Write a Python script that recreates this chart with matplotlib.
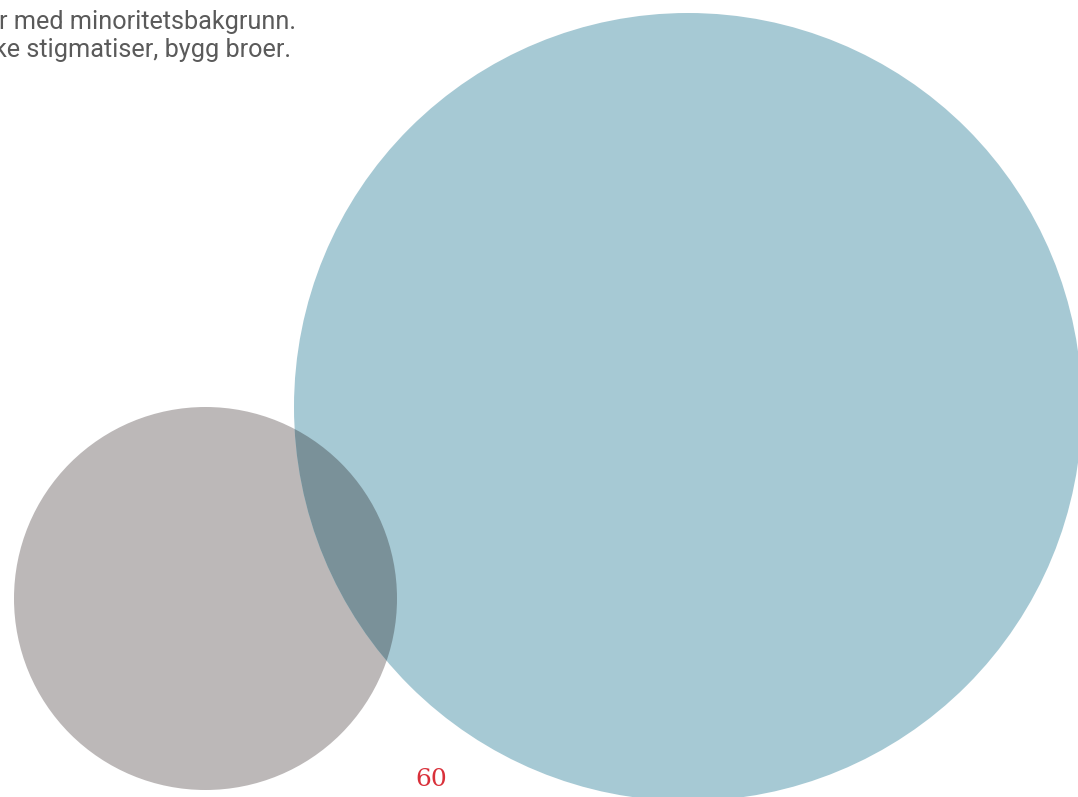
import matplotlib.pyplot as plt
from matplotlib.patches import Circle

# Sirkler: navn, sentrum (x, y) og radius i pikselkoordinater
names = ['minoritet', 'total']
centers_x = [205.5, 688]
centers_y = [598.5, 407]
radii = [191.5, 394]
fill_colors = ['#bcb8b8', '#a6c9d4']
overlap_color = '#7a9199'

text_lines = ['r med minoritetsbakgrunn.', 'ke stigmatiser, bygg broer.']
page_number = '60'

fig = plt.figure(figsize=(10.78, 7.97), dpi=100)
ax = fig.add_axes([0, 0, 1, 1])
ax.set_xlim(0, 1078)
ax.set_ylim(797, 0)
ax.set_aspect('equal')
ax.axis('off')

patches = []
for cx, cy, r, c in zip(centers_x, centers_y, radii, fill_colors):
    p = Circle((cx, cy), r, facecolor=c, edgecolor='none')
    ax.add_patch(p)
    patches.append(p)

# overlapp (multipliserte farger)
ov = Circle((centers_x[0], centers_y[0]), radii[0], facecolor=overlap_color, edgecolor='none')
ax.add_patch(ov)
ov.set_clip_path(patches[1])

ax.text(296, 22, text_lines[0], ha='right', va='center', fontsize=18.2,
        color='#5a5a5a', family='Roboto')
ax.text(291, 50, text_lines[1], ha='right', va='center', fontsize=18.2,
        color='#5a5a5a', family='Roboto')

ax.text(431, 780, page_number, ha='center', va='center', fontsize=18,
        color='#d9303a', family='DejaVu Serif')

fig.savefig('out.png', dpi=100)
